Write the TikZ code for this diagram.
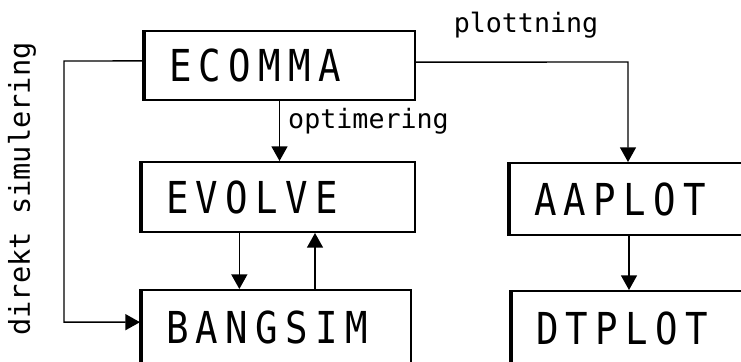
\documentclass[tikz,border=0pt]{standalone}
\usepackage{fontspec}
\setmainfont{DejaVu Sans Mono}
\newfontfamily\boxfont[FakeStretch=0.85,LetterSpace=17]{DejaVu Sans Mono}
\usetikzlibrary{arrows.meta}
\begin{document}
\begin{tikzpicture}[x=0.75pt,y=-0.75pt,
  box/.style={draw, line width=1.5pt, anchor=west, inner xsep=18.75pt, inner ysep=0pt,
    align=left, font=\boxfont\fontsize{33}{36}\selectfont},
  arr/.style={line width=1.1pt, -{Triangle[width=12pt,length=11pt]}},
  lbl/.style={font=\fontsize{20}{22}\selectfont, inner sep=2pt}]
\useasboundingbox (0,0) rectangle (741,361);
\node[box, minimum width=203.25pt, minimum height=51.75pt, text width=165.75pt] (ecomma) at (143,65.5) {ECOMMA};
\node[box, minimum width=205.5pt, minimum height=52.5pt, text width=168pt] (evolve) at (140,197) {EVOLVE};
\node[box, minimum width=202.5pt, minimum height=56.25pt, text width=165pt] (bangsim) at (140,327.5) {BANGSIM};
\node[box, minimum width=180pt, minimum height=54pt, text width=142.5pt] (aaplot) at (508,199) {AAPLOT};
\node[box, minimum width=177pt, minimum height=56.25pt, text width=139.5pt] (dtplot) at (510,328.5) {DTPLOT};
\foreach \n in {ecomma,evolve,bangsim,aaplot,dtplot}
  \draw[line width=3pt] ([xshift=1pt]\n.north west) -- ([xshift=1pt]\n.south west);
% left connector
\coordinate (dl) at (64,61);
\draw[arr] ([yshift=3.4pt]ecomma.west) -- (dl) |- ([yshift=4pt]bangsim.west);
\node[lbl, rotate=90, font=\fontsize{21.5}{24}\selectfont] (dsim) at (22,189) {direkt simulering};
% right connector
\coordinate (pr) at (628,62);
\draw[arr] ([yshift=2.6pt]ecomma.east) -- node[lbl, midway, above=15pt, xshift=3pt] {plottning} (pr) -- (pr |- aaplot.north);
% optimering
\draw[arr] (ecomma.south) -- node[lbl, pos=0.34, right=4pt] {optimering} (ecomma.south |- evolve.north);
% evolve <-> bangsim
\draw[arr] ([xshift=-29pt]evolve.south) -- ([xshift=-29pt]evolve.south |- bangsim.north);
\draw[arr] ([xshift=27.75pt]bangsim.north -| evolve.south) -- ([xshift=27.75pt]evolve.south);
% aaplot -> dtplot
\draw[arr] (aaplot.south) -- (dtplot.north);
\end{tikzpicture}
\end{document}
